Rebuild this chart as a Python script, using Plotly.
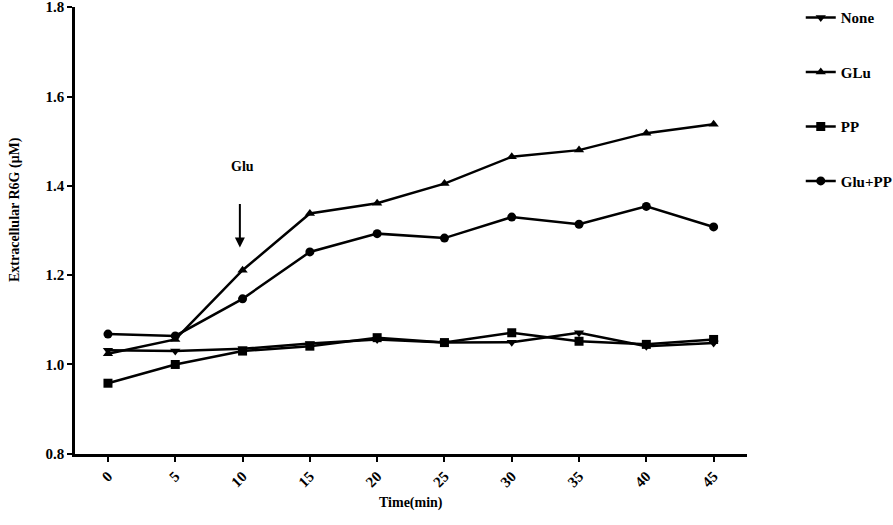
import plotly.graph_objects as go

# time points (min)
time_min = [0, 5, 10, 15, 20, 25, 30, 35, 40, 45]

# extracellular R6G (uM)
none_vals = [1.032, 1.030, 1.035, 1.047, 1.056, 1.049, 1.050, 1.071, 1.041, 1.048]
glu_vals = [1.024, 1.056, 1.211, 1.338, 1.361, 1.405, 1.465, 1.480, 1.518, 1.538]
pp_vals = [0.958, 1.000, 1.030, 1.041, 1.060, 1.049, 1.071, 1.052, 1.045, 1.056]
glu_pp_vals = [1.068, 1.064, 1.147, 1.252, 1.293, 1.283, 1.330, 1.314, 1.354, 1.308]

series_names = ["None", "GLu", "PP", "Glu+PP"]
series_symbols = ["triangle-down", "triangle-up", "square", "circle"]
series_values = [none_vals, glu_vals, pp_vals, glu_pp_vals]

y_ticks = [0.8, 1.0, 1.2, 1.4, 1.6, 1.8]

FONT = "Liberation Serif, Times New Roman, serif"

fig = go.Figure()
for i in range(len(series_names)):
    fig.add_trace(
        go.Scatter(
            x=time_min,
            y=series_values[i],
            name=series_names[i],
            legendgroup=series_names[i],
            mode="lines+markers",
            line=dict(color="black", width=2.5),
            marker=dict(symbol=series_symbols[i], size=9, color="black"),
        )
    )

fig.update_layout(
    width=893,
    height=525,
    margin=dict(l=75, r=146, t=7, b=71, autoexpand=False),
    plot_bgcolor="white",
    paper_bgcolor="white",
    font=dict(family=FONT, color="black", size=15, weight="bold"),
    legend=dict(
        x=1.08,
        xanchor="left",
        y=1.013,
        yanchor="top",
        traceorder="grouped",
        tracegroupgap=32,
        font=dict(family=FONT, size=15, weight="bold"),
        itemwidth=30,
    ),
    annotations=[
        # arrow marking glucose addition
        dict(
            x=9.8,
            y=1.262,
            xref="x",
            yref="y",
            ax=0,
            ay=-45,
            text="",
            showarrow=True,
            arrowhead=2,
            arrowsize=1,
            arrowwidth=2,
            arrowcolor="black",
        ),
        dict(
            x=10,
            y=1.443,
            xref="x",
            yref="y",
            text="Glu",
            showarrow=False,
            font=dict(size=14),
        ),
        dict(
            x=-0.104,
            y=0.546,
            xref="paper",
            yref="paper",
            text="Extracellular R6G (μM)",
            textangle=-90,
            showarrow=False,
            font=dict(size=14),
        ),
        dict(
            x=0.5,
            y=-0.132,
            xref="paper",
            yref="paper",
            text="Time(min)",
            showarrow=False,
            font=dict(size=14),
        ),
    ],
)

fig.update_xaxes(
    range=[-2.45, 47.48],
    tickvals=time_min,
    tickangle=-45,
    automargin=False,
    showgrid=False,
    zeroline=False,
    showline=True,
    linecolor="black",
    linewidth=2.5,
    ticks="outside",
    ticklen=5,
    tickwidth=2,
    tickcolor="black",
    tickfont=dict(size=15),
)
fig.update_yaxes(
    range=[0.7995, 1.8005],
    tickvals=y_ticks,
    tickformat=".1f",
    automargin=False,
    ticklabeloverflow="allow",
    showgrid=False,
    zeroline=False,
    showline=True,
    linecolor="black",
    linewidth=2.5,
    ticks="outside",
    ticklen=5,
    tickwidth=2,
    tickcolor="black",
    tickfont=dict(size=15),
)

fig.write_html(
    "out.html",
    config={"displayModeBar": False},
    post_script="document.body.style.margin='0px';",
)
